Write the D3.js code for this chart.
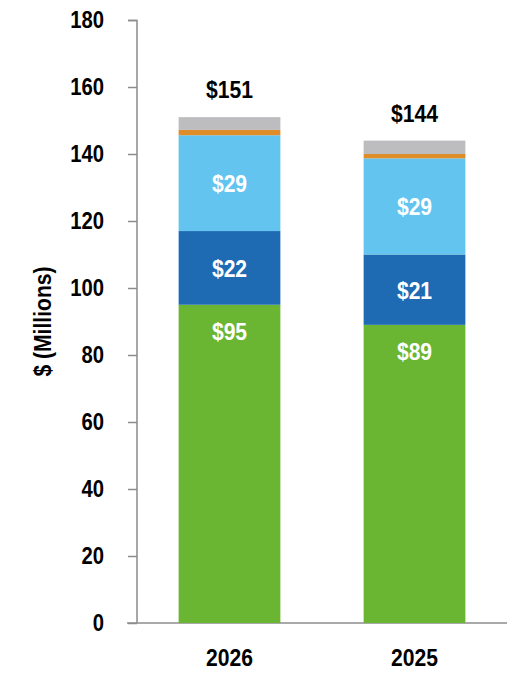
<!DOCTYPE html>
<html>
<head>
<meta charset="utf-8">
<script src="https://cdn.jsdelivr.net/npm/d3@7"></script>
<style>
  body { margin: 0; background: #fff; }
  text { font-family: "Liberation Sans", Arial, sans-serif; font-weight: bold; }
</style>
</head>
<body>
<div id="canvas"></div>
<script>
// data
var years = ['2026', '2025'];
var series = ['green', 'darkBlue', 'lightBlue', 'orange', 'gray'];
var green = [95, 89];
var darkBlue = [22, 21];
var lightBlue = [28.6, 28.7];
var orange = [1.6, 1.3];
var gray = [3.8, 4.0];
var greenLabels = ['$95', '$89'];
var darkBlueLabels = ['$22', '$21'];
var lightBlueLabels = ['$29', '$29'];
var totalLabels = ['$151', '$144'];
var yTicks = [0, 20, 40, 60, 80, 100, 120, 140, 160, 180];

var colors = {green:'#6ab633', darkBlue:'#1e6bb4', lightBlue:'#63c4f0', orange:'#df8d29', gray:'#bdbdbf'};

var W = 526, H = 690;
var m = {t:20, r:19, b:67, l:137};
var w = W - m.l - m.r,
    h = H - m.t - m.b;
var SX = 0.88; // narrow-ish text

var svg = d3.select('#canvas').append('svg')
    .attr('width', W)
    .attr('height', H);
var plot = svg.append('g')
    .attr('transform', 'translate(' + m.l + ',' + m.t + ')');

var scaleX = d3.scaleBand().domain(years).range([0, w]).paddingInner(0.45).paddingOuter(0.225);
var scaleY = d3.scaleLinear().domain([0, 180]).range([h, 0]);

// squeeze text horizontally to look like a condensed face
function squish(sel){
    sel.each(function(){
        var t = d3.select(this);
        var x = +t.attr('x') || 0;
        t.attr('x', x / SX).attr('transform', (t.attr('transform') || '') + ' scale(' + SX + ',1)');
    });
}

// build rows for stack
var rows = years.map(function(y, i){
    return {year:y, green:green[i], darkBlue:darkBlue[i], lightBlue:lightBlue[i], orange:orange[i], gray:gray[i]};
});
var stacked = d3.stack().keys(series)(rows);

// axes
var axisY = d3.axisLeft(scaleY).tickValues(yTicks).tickSize(9).tickPadding(24);
var gy = plot.append('g').call(axisY);
gy.select('.domain').attr('stroke', '#8c8c8c').attr('stroke-width', 1.5).attr('d', 'M-9,0.5H0V' + h);
gy.selectAll('.tick line').attr('stroke', '#8c8c8c').attr('stroke-width', 1.5);
gy.selectAll('.tick text').style('font-size', '23px').attr('fill', '#000').call(squish);

plot.append('line')
    .attr('x1', -10).attr('x2', w)
    .attr('y1', h).attr('y2', h)
    .attr('stroke', '#8c8c8c').attr('stroke-width', 1.5);

// bars
stacked.forEach(function(layer){
    plot.selectAll('.bar-' + layer.key)
        .data(layer)
        .enter().append('rect')
        .attr('x', function(d){ return scaleX(d.data.year); })
        .attr('width', scaleX.bandwidth())
        .attr('y', function(d){ return scaleY(d[1]); })
        .attr('height', function(d){ return scaleY(d[0]) - scaleY(d[1]); })
        .attr('fill', colors[layer.key]);
});

// labels inside segments
function segLabels(layerIdx, labels, pos){
    plot.selectAll('.lbl' + layerIdx)
        .data(stacked[layerIdx])
        .enter().append('text')
        .attr('x', function(d){ return scaleX(d.data.year) + scaleX.bandwidth()/2; })
        .attr('y', pos)
        .attr('text-anchor', 'middle')
        .attr('fill', '#fff')
        .style('font-size', '24px')
        .text(function(d, i){ return labels[i]; })
        .call(squish);
}
segLabels(0, greenLabels, function(d){ return scaleY(d[1]) + 35; });
segLabels(1, darkBlueLabels, function(d){ return (scaleY(d[0]) + scaleY(d[1]))/2 + 9; });
segLabels(2, lightBlueLabels, function(d){ return (scaleY(d[0]) + scaleY(d[1]))/2 + 9; });

// totals
plot.selectAll('.total')
    .data(stacked[stacked.length-1])
    .enter().append('text')
    .attr('x', function(d){ return scaleX(d.data.year) + scaleX.bandwidth()/2; })
    .attr('y', function(d){ return scaleY(d[1]) - 19; })
    .attr('text-anchor', 'middle')
    .attr('fill', '#000')
    .style('font-size', '24px')
    .text(function(d, i){ return totalLabels[i]; })
    .call(squish);

// category labels
plot.selectAll('.cat')
    .data(years)
    .enter().append('text')
    .attr('x', function(d){ return scaleX(d) + scaleX.bandwidth()/2; })
    .attr('y', h + 43)
    .attr('text-anchor', 'middle')
    .attr('fill', '#000')
    .style('font-size', '24px')
    .text(function(d){ return d; })
    .call(squish);

// y title
svg.append('text')
    .attr('transform', 'translate(51,' + (m.t + scaleY(90)) + ') rotate(-90)')
    .attr('text-anchor', 'middle')
    .attr('fill', '#000')
    .style('font-size', '24px')
    .text('$ (Millions)')
    .call(squish);
</script>
</body>
</html>
